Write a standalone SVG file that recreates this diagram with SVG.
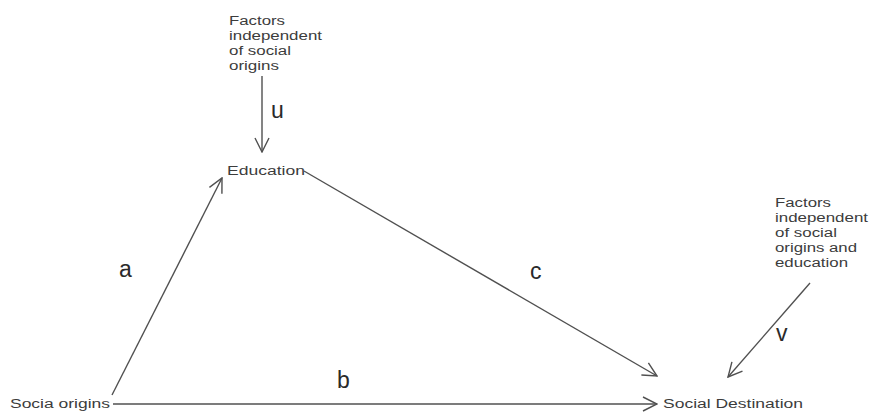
<svg xmlns="http://www.w3.org/2000/svg" width="874" height="415" viewBox="0 0 874 415">
<style>
.t{font-family:"Liberation Sans",Arial,sans-serif;font-size:12.5px;fill:#3c3c3c}
.L{font-family:"Liberation Sans",Arial,sans-serif;font-size:23px;fill:#2a2a2a}
.c{stroke:#505050;stroke-width:1.4;fill:none}
</style>
<defs>
<marker id="ah" viewBox="0 0 16 16" markerWidth="16" markerHeight="16" refX="15" refY="8" orient="auto" markerUnits="userSpaceOnUse">
<path d="M1,1 L15,8 L1,15" fill="none" stroke="#505050" stroke-width="1.4"/>
</marker>
</defs>
<rect width="874" height="415" fill="#fff"/>
<g id="factors-top">
<text class="t" x="229" y="25" textLength="56" lengthAdjust="spacingAndGlyphs">Factors</text>
<text class="t" x="229" y="40" textLength="93" lengthAdjust="spacingAndGlyphs">independent</text>
<text class="t" x="229" y="55" textLength="62" lengthAdjust="spacingAndGlyphs">of social</text>
<text class="t" x="229" y="70" textLength="50" lengthAdjust="spacingAndGlyphs">origins</text>
</g>
<g id="education">
<text class="t" x="227" y="175" textLength="78" lengthAdjust="spacingAndGlyphs">Education</text>
</g>
<g id="factors-right">
<text class="t" x="775" y="207" textLength="56" lengthAdjust="spacingAndGlyphs">Factors</text>
<text class="t" x="775" y="222" textLength="93" lengthAdjust="spacingAndGlyphs">independent</text>
<text class="t" x="775" y="237" textLength="62" lengthAdjust="spacingAndGlyphs">of social</text>
<text class="t" x="775" y="252" textLength="82" lengthAdjust="spacingAndGlyphs">origins and</text>
<text class="t" x="775" y="267" textLength="73" lengthAdjust="spacingAndGlyphs">education</text>
</g>
<g id="social-origins">
<text class="t" x="10" y="408" textLength="100" lengthAdjust="spacingAndGlyphs">Socia origins</text>
</g>
<g id="social-destination">
<text class="t" x="663" y="408" textLength="140" lengthAdjust="spacingAndGlyphs">Social Destination</text>
</g>
<g id="connectors">
<line class="c" x1="262" y1="76" x2="262" y2="152" marker-end="url(#ah)"/>
<line class="c" x1="112" y1="395" x2="222" y2="178" marker-end="url(#ah)"/>
<line class="c" x1="304" y1="171" x2="657" y2="376" marker-end="url(#ah)"/>
<line class="c" x1="113" y1="404" x2="657" y2="404" stroke-width="2" marker-end="url(#ah)"/>
<line class="c" x1="810" y1="283" x2="728" y2="377" marker-end="url(#ah)"/>
<text class="L" x="271" y="118">u</text>
<text class="L" x="119" y="277">a</text>
<text class="L" x="530" y="279">c</text>
<text class="L" x="337" y="388">b</text>
<text class="L" x="776" y="341">v</text>
</g>
</svg>
